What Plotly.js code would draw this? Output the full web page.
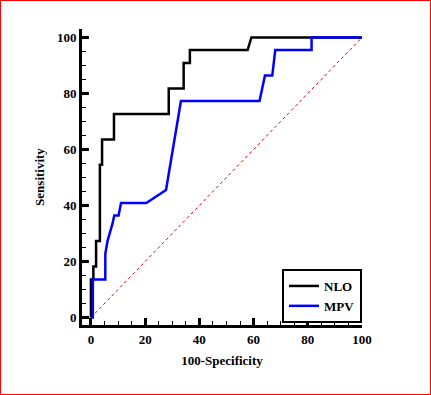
<!DOCTYPE html>
<html>
<head>
<meta charset="utf-8">
<script src="https://cdn.plot.ly/plotly-3.0.1.min.js"></script>
<style>
  html, body { margin: 0; padding: 0; background: #fff; }
  #wrap { position: relative; width: 431px; height: 395px; }
  #chart { width: 431px; height: 395px; }
  #frame { position: absolute; left: 0; top: 0; width: 431px; height: 395px; box-sizing: border-box; border: 1px solid #ff0000; pointer-events: none; }
</style>
</head>
<body>
<div id="wrap"><div id="chart"></div><div id="frame"></div></div>
<script>
// NLO ROC curve (100-Specificity, Sensitivity)
var nloX = [0, 0, 0.9, 0.9, 1.9, 1.9, 3.3, 3.3, 4.1, 4.1, 8.5, 8.5, 28.7, 28.7, 34.2, 34.2, 36.5, 36.5, 57.8, 59.2, 100];
var nloY = [0, 13.6, 13.6, 18.2, 18.2, 27.3, 27.3, 54.5, 54.5, 63.6, 63.6, 72.7, 72.7, 81.8, 81.8, 90.9, 90.9, 95.5, 95.5, 100, 100];
// MPV ROC curve
var mpvX = [0, 0.7, 0.7, 5.3, 5.3, 6.1, 8.0, 8.6, 10.2, 11.1, 20.4, 22.2, 25.5, 27.7, 33.2, 62.2, 64.2, 66.9, 68.0, 81.4, 81.4, 100];
var mpvY = [0, 0, 13.6, 13.6, 22.7, 27.3, 33.7, 36.4, 36.4, 40.9, 40.9, 42.0, 44.1, 45.5, 77.3, 77.3, 86.4, 86.4, 95.5, 95.5, 100, 100];
// reference diagonal
var diagX = [0, 100];
var diagY = [0, 100];
var seriesNames = ["NLO", "MPV"];
var tickVals = [0, 20, 40, 60, 80, 100];

var serif = "'Liberation Serif', serif";

var traces = [
  { x: diagX, y: diagY, type: "scatter", mode: "lines", showlegend: false, hoverinfo: "skip",
    line: { color: "#e00000", width: 1, dash: "dot" }, cliponaxis: false },
  { x: nloX, y: nloY, type: "scatter", mode: "lines", name: seriesNames[0],
    line: { color: "#000000", width: 2.5 }, cliponaxis: false },
  { x: mpvX, y: mpvY, type: "scatter", mode: "lines", name: seriesNames[1],
    line: { color: "#0000ff", width: 2.5 }, cliponaxis: false }
];

var axisCommon = {
  showgrid: false, zeroline: false, showline: true, linecolor: "#000", linewidth: 3,
  ticks: "inside", ticklen: 7, tickwidth: 3, tickcolor: "#000",
  tickvals: tickVals, ticktext: tickVals.map(String),
  tickfont: { family: serif, size: 13, color: "#000", weight: "bold" },
  minor: { dtick: 5, ticks: "inside", ticklen: 4, tickwidth: 1, tickcolor: "#000" }
};

var layout = {
  width: 431, height: 395,
  margin: { l: 82, r: 69, t: 29, b: 70 },
  paper_bgcolor: "#fff", plot_bgcolor: "#fff",
  xaxis: Object.assign({}, axisCommon, {
    range: [-3.3, 100],
    title: { text: "100-Specificity", font: { family: serif, size: 13, color: "#000", weight: "bold" }, standoff: 11 }
  }),
  yaxis: Object.assign({}, axisCommon, {
    range: [-2.66, 103],
    title: { text: "Sensitivity", font: { family: serif, size: 13, color: "#000", weight: "bold" }, standoff: 10 }
  }),
  legend: {
    x: 1, y: 0.098, xanchor: "right", yanchor: "middle",
    bordercolor: "#000", borderwidth: 2, bgcolor: "#fff",
    font: { family: serif, size: 13, color: "#000", weight: "bold" },
    tracegroupgap: 0
  },
  showlegend: true
};

Plotly.newPlot("chart", traces, layout, { displayModeBar: false, staticPlot: true });
</script>
</body>
</html>
